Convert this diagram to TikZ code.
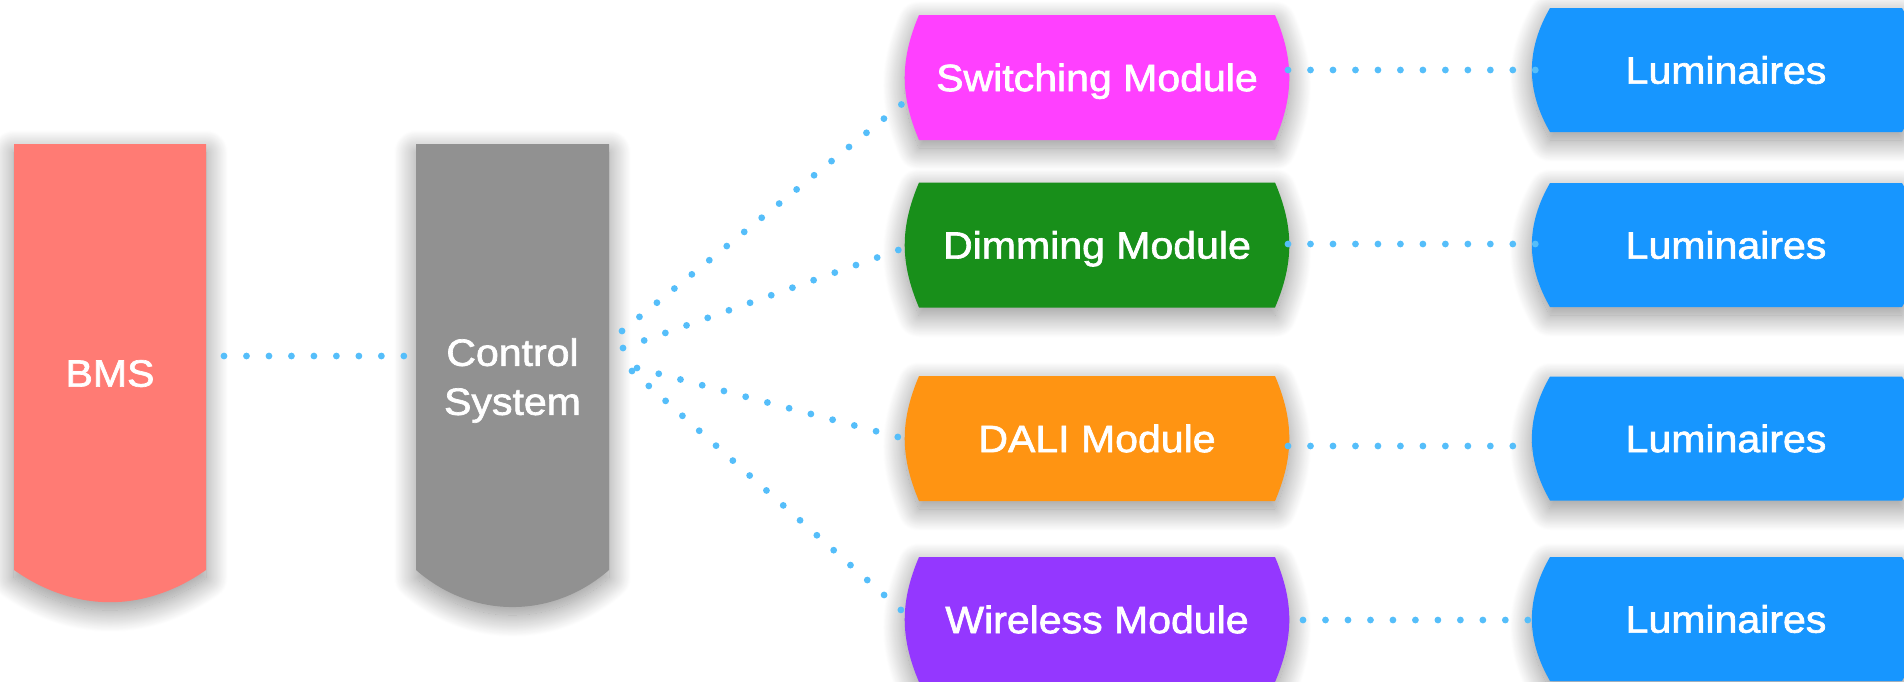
\documentclass[tikz,border=0pt]{standalone}
\usepackage{fontspec}
\setmainfont{Liberation Sans}[FakeStretch=1.08, FakeBold=1.8]
\usetikzlibrary{calc,shadows.blur,backgrounds}

\definecolor{bmscol}{RGB}{255,123,116}
\definecolor{ctrlcol}{RGB}{145,145,145}
\definecolor{swcol}{RGB}{255,64,255}
\definecolor{dimcol}{RGB}{24,143,26}
\definecolor{dalicol}{RGB}{255,148,18}
\definecolor{wlcol}{RGB}{148,55,255}
\definecolor{lumcol}{RGB}{23,150,255}
\definecolor{linkcol}{RGB}{85,190,250}

\begin{document}
\begin{tikzpicture}[x=0.5pt,y=-0.5pt,
  blk/.style={rectangle, inner sep=0pt, outer sep=0pt, text=white,
    font=\fontsize{19pt}{24.5pt}\selectfont},
  caps/.style={text height=13.6pt, text depth=0pt},
  modbox/.style={blk, caps, minimum width=178pt, minimum height=62.5pt},
  lumbox/.style={blk, caps, minimum width=176pt, minimum height=62pt},
  softshadow/.style={blur shadow={shadow xshift=0pt, shadow yshift=-4pt,
    shadow blur radius=11pt, shadow blur steps=30, shadow opacity=45}},
  link/.style={draw=linkcol, line width=3.4pt, line cap=round,
    dash pattern=on 0pt off 11.24pt},
]
\useasboundingbox (0,0) rectangle (1904,681);
\clip (0,0) rectangle (1904,681);

% columns of blocks
\node[blk, caps, minimum width=96pt, minimum height=229pt] (bms) at (110,373) {BMS};
\node[blk, minimum width=96.5pt, minimum height=231.5pt] (ctrl) at (512.5,375.5) {};
\node[blk, align=center] (ctrltext) at (512.5,380.5) {Control\\System};

\node[modbox] (sw)   at (1097,77.5)  {Switching Module};
\node[modbox] (dim)  at (1097,245)   {Dimming Module};
\node[modbox] (dali) at (1097,438.5) {DALI Module};
\node[modbox] (wl)   at (1097,619.5) {Wireless Module};

\node[lumbox] (lum1) at (1726,70)    {Luminaires};
\node[lumbox] (lum2) at (1726,245)   {Luminaires};
\node[lumbox] (lum3) at (1726,438.5) {Luminaires};
\node[lumbox] (lum4) at (1726,619)   {Luminaires};

% block outlines: flat tops, rounded bottoms / bulging sides
\begin{scope}[on background layer]
  \fill[bmscol, softshadow] (bms.north west) -- (bms.north east)
    -- ($(bms.south east)+(0,-32)$) to[bend left=35] ($(bms.south west)+(0,-32)$) -- cycle;
  \fill[ctrlcol, softshadow] (ctrl.north west) -- (ctrl.north east)
    -- ($(ctrl.south east)+(0,-37)$) to[bend left=41] ($(ctrl.south west)+(0,-37)$) -- cycle;
  \foreach \n/\c in {sw/swcol, dim/dimcol, dali/dalicol, wl/wlcol}{
    \fill[\c, softshadow] (\n.north west) -- (\n.north east)
      to[bend left=23] (\n.south east) -- (\n.south west)
      to[bend left=23] (\n.north west) -- cycle;
  }
  \foreach \n in {lum1, lum2, lum3, lum4}{
    \fill[lumcol, softshadow] (\n.north west) -- (\n.north east)
      to[bend left=30] (\n.south east) -- (\n.south west)
      to[bend left=30] (\n.north west) -- cycle;
  }
\end{scope}

% dotted connections
\draw[link] ([shift={(18,-17)}]bms.east) -- ([shift={(-12,-19.5)}]ctrl.west);

\draw[link] ([shift={(13,-44.5)}]ctrl.east) -- ([shift={(-1,13.5)}]sw.west);
\draw[link] ([shift={(14,-27.5)}]ctrl.east) -- ([shift={(-1,-2)}]dim.west);
\draw[link] ([shift={(28,-7.5)}]ctrl.east)  -- ([shift={(-21,-1.5)}]dali.west);
\draw[link] ([shift={(23,-4.5)}]ctrl.east)  -- ([shift={(-18,-9.5)}]wl.west);

\draw[link] ([shift={(13,-7.5)}]sw.east)  -- ([shift={(-14,0)}]lum1.west);
\draw[link] ([shift={(13,-1)}]dim.east)   -- ([shift={(-14,-1)}]lum2.west);
\draw[link] ([shift={(13,7.5)}]dali.east) -- ([shift={(-36,7.5)}]lum3.west);
\draw[link] ([shift={(28,0.5)}]wl.east)   -- ([shift={(-22,1)}]lum4.west);
\end{tikzpicture}
\end{document}
